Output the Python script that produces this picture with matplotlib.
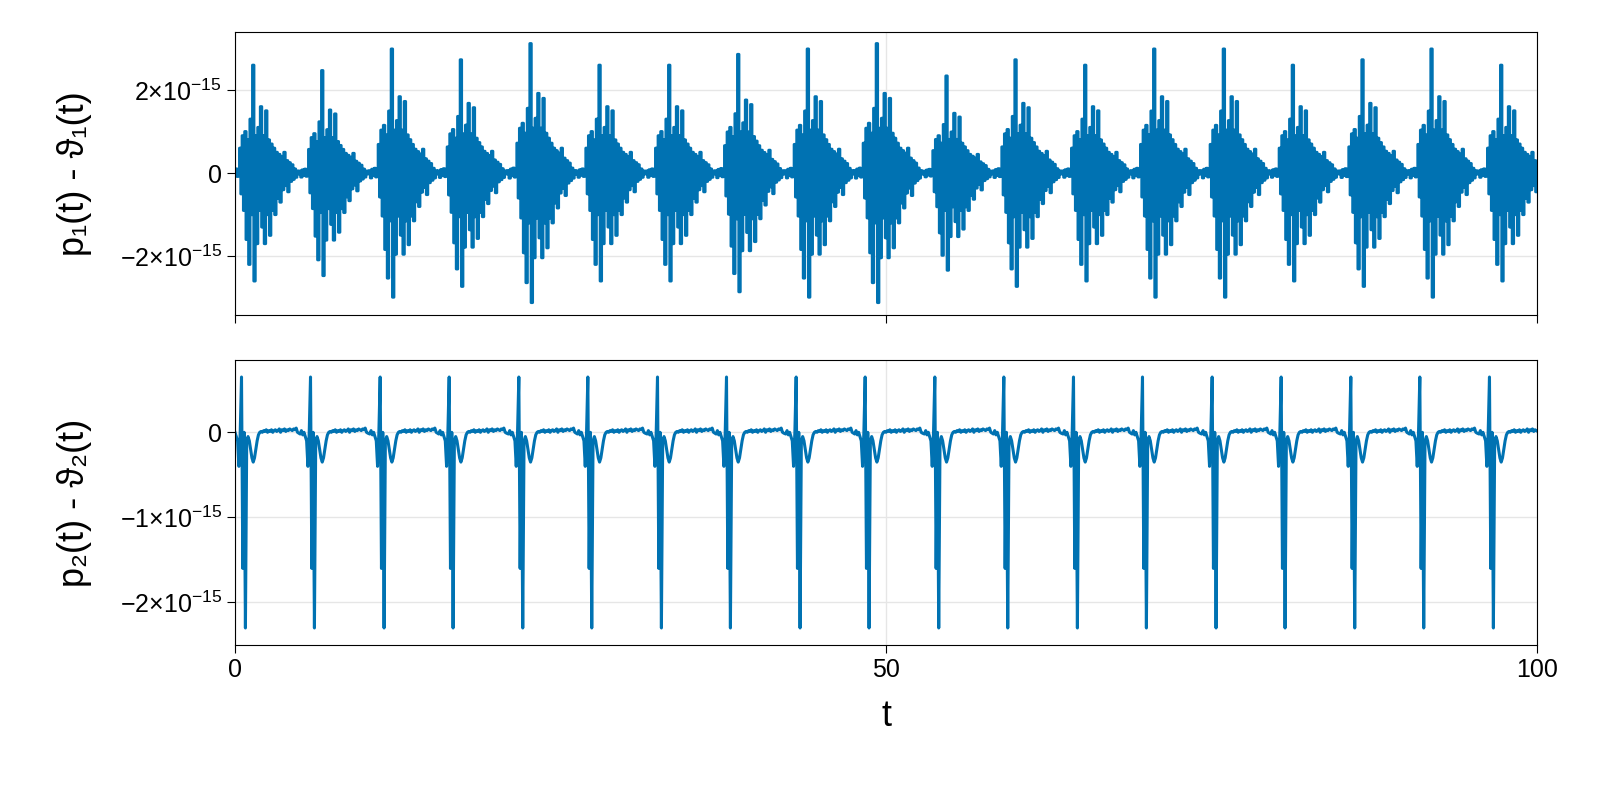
import numpy as np
import matplotlib.pyplot as plt

plt.rcParams['font.family'] = ['Liberation Sans', 'DejaVu Sans']
plt.rcParams['mathtext.fontset'] = 'custom'
plt.rcParams['mathtext.rm'] = 'Liberation Sans'
plt.rcParams['mathtext.it'] = 'Liberation Sans'
plt.rcParams['mathtext.default'] = 'regular'

# -----------------------------
# Data
# -----------------------------
# start time of each cycle (position of the big spike in the lower panel)
cycle_t = [0.5, 5.8, 11.15, 16.45, 21.8, 27.1, 32.45, 37.75, 43.1, 48.4,
           53.75, 59.05, 64.4, 69.7, 75.05, 80.35, 85.7, 91.0, 96.35]
# per-cycle amplitude of the upper panel bursts
burst_scale = [1.0, 0.95, 1.15, 1.05, 1.2, 1.0, 1.0, 1.1, 1.15, 1.2,
               0.9, 1.05, 1.0, 1.15, 1.15, 1.0, 1.05, 1.15, 1.0]

# one cycle, sampled every 0.1 in t, starting 0.8 before the spike
upper_cycle = [0.05, -0.1, 0.08, -0.05, 0.1, -0.08, 0.05, 0.6, -0.5, 0.9,
               -0.9, 1.0, -1.6, 0.8, -2.2, 1.3, -1.0, 2.6, -2.6, 0.9,
               -1.7, 1.1, -0.9, 1.6, -1.3, 0.9, -1.7, 1.5, -1.0, 0.8,
               -1.5, 0.7, -0.9, 0.6, -1.0, 0.5, -0.6, 0.45, -0.7, 0.4,
               -0.4, 0.5, -0.3, 0.3, -0.45, 0.25, -0.2, 0.2, -0.15, 0.1,
               -0.1, 0.05, -0.02]
lower_cycle = [-0.02, 0.02, -0.03, 0.0, -0.05, -0.1, -0.4, 0.0, 0.65, -1.6,
               0.0, -2.3, -0.1, -0.05, -0.1, -0.2, -0.3, -0.35, -0.3, -0.2,
               -0.1, -0.03, 0.0, 0.01, 0.0, 0.02, 0.01, 0.03, 0.0, 0.02,
               0.01, 0.03, 0.0, 0.02, 0.03, 0.01, 0.02, 0.04, 0.0, 0.03,
               0.02, 0.04, 0.01, 0.03, 0.02, 0.04, 0.03, 0.02, 0.04, 0.03,
               0.05, 0.0, -0.01]
dt = 0.1
t0 = -0.8

t, y1, y2 = [], [], []
for c, s in zip(cycle_t, burst_scale):
    for i, (u, l) in enumerate(zip(upper_cycle, lower_cycle)):
        tt = c + t0 + i * dt
        if 0 <= tt <= 100:
            t.append(tt)
            y1.append(u * s * 1e-15)
            y2.append(l * 1e-15)

# -----------------------------
# Plot
# -----------------------------
color = '#0072B2'
fig = plt.figure(figsize=(16, 8), dpi=100)
ax1 = fig.add_axes([235/1600, 1-315/800, 1302/1600, 283/800])
ax2 = fig.add_axes([235/1600, 1-645/800, 1302/1600, 285/800])

ax1.plot(t, y1, color=color, lw=2.2, drawstyle='steps-mid')
ax2.plot(t, y2, color=color, lw=2.2)

ax1.set_ylim(-3.42e-15, 3.4e-15)
ax2.set_ylim(-2.5e-15, 0.85e-15)
ax1.set_yticks([-2e-15, 0, 2e-15])
ax1.set_yticklabels([r'$-2{\times}10^{-15}$', '0', r'$2{\times}10^{-15}$'])
ax2.set_yticks([-2e-15, -1e-15, 0])
ax2.set_yticklabels([r'$-2{\times}10^{-15}$', r'$-1{\times}10^{-15}$', '0'])

for ax in (ax1, ax2):
    ax.set_xlim(0, 100)
    ax.set_xticks([0, 50, 100])
    ax.grid(True, color='#e6e6e6', lw=1)
    ax.set_axisbelow(True)
    ax.tick_params(labelsize=18, length=6, direction='out')

ax1.set_xticklabels([])
ax2.set_xticklabels(['0', '50', '100'])
ax1.set_ylabel('p₁(t) - ϑ₁(t)', fontsize=26)
ax2.set_ylabel('p₂(t) - ϑ₂(t)', fontsize=26)
ax2.set_xlabel('t', fontsize=26, labelpad=12)
ax1.yaxis.set_label_coords(-0.11, 0.5)
ax2.yaxis.set_label_coords(-0.11, 0.5)

fig.savefig('out.png', dpi=100)
